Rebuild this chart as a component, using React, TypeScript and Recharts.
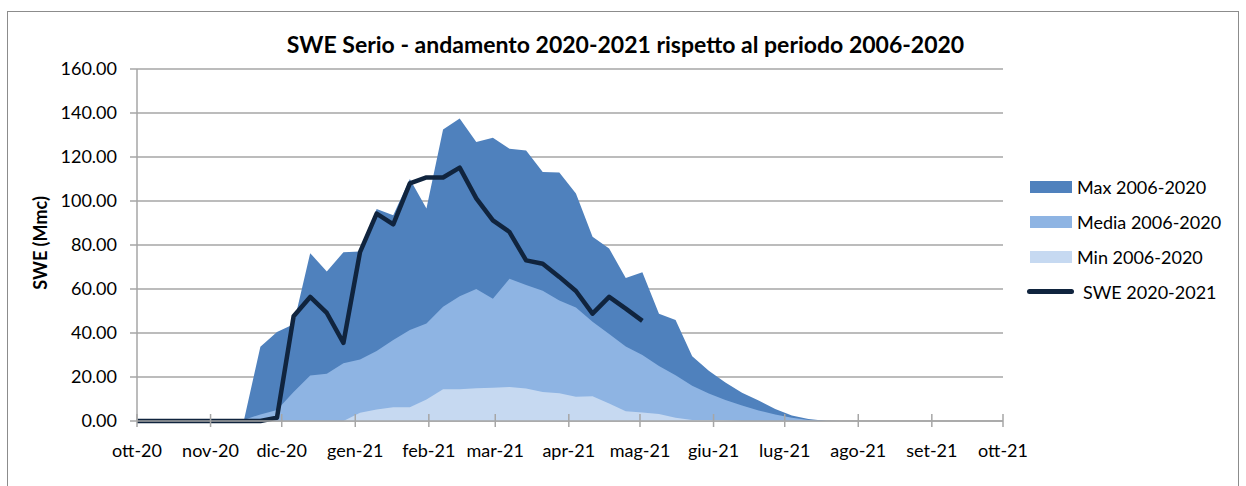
import React from "react";
import {
  ComposedChart,
  Area,
  Line,
  XAxis,
  YAxis,
  CartesianGrid,
} from "recharts";

// weekly sampling dates (first one is the start of the hydrological year)
const dates = [
  "2020-10-01", "2020-10-04", "2020-10-11", "2020-10-18", "2020-10-25",
  "2020-11-01", "2020-11-08", "2020-11-15", "2020-11-22", "2020-11-29",
  "2020-12-06", "2020-12-13", "2020-12-20", "2020-12-27", "2021-01-03",
  "2021-01-10", "2021-01-17", "2021-01-24", "2021-01-31", "2021-02-07",
  "2021-02-14", "2021-02-21", "2021-02-28", "2021-03-07", "2021-03-14",
  "2021-03-21", "2021-03-28", "2021-04-04", "2021-04-11", "2021-04-18",
  "2021-04-25", "2021-05-02", "2021-05-09", "2021-05-16", "2021-05-23",
  "2021-05-30", "2021-06-06", "2021-06-13", "2021-06-20", "2021-06-27",
  "2021-07-04", "2021-07-11", "2021-07-18", "2021-07-25", "2021-08-01",
  "2021-08-08", "2021-08-15", "2021-08-22", "2021-08-29", "2021-09-05",
  "2021-09-12", "2021-09-19", "2021-09-26",
];

const maxValues = [
  0, 0, 0, 0, 0, 0, 0, 0, 33.8, 40.4,
  44, 76.3, 68, 76.7, 77, 96.4, 93.5, 110, 96.6, 132.5,
  137.5, 126.8, 128.7, 123.7, 123, 113.2, 113, 103.4, 83.7, 78.4,
  65, 67.6, 48.8, 45.9, 29.4, 22.8, 17.5, 12.8, 9.3, 5.5,
  2.5, 0.9, 0.1, 0, 0, 0, 0, 0, 0, 0,
  0, 0, 0,
];

const mediaValues = [
  0, 0, 0, 0, 0, 0, 0, 0.5, 3, 5,
  13.2, 20.7, 21.5, 26.2, 27.9, 31.8, 36.8, 41.4, 44.3, 51.9,
  56.7, 60, 55.6, 64.7, 61.8, 59.2, 54.8, 51.6, 45.1, 39.6,
  33.9, 30, 25, 20.8, 16, 12.5, 9.5, 7, 4.8, 3,
  1.5, 0.5, 0, 0, 0, 0, 0, 0, 0, 0,
  0, 0, 0,
];

const minValues = [
  0, 0, 0, 0, 0, 0, 0, 0, 0, 0,
  0, 0, 0, 0, 3.8, 5.2, 6.2, 6.3, 9.8, 14.4,
  14.4, 14.9, 15.1, 15.5, 14.8, 13.2, 12.6, 11, 11.3, 7.9,
  4.4, 3.9, 3.2, 1.5, 0.4, 0.5, 0.3, 0, 0, 0,
  0, 0, 0, 0, 0, 0, 0, 0, 0, 0,
  0, 0, 0,
];

const sweValues: (number | null)[] = [
  0, 0, 0, 0, 0, 0, 0, 0, 0, 1.5,
  47.6, 56.4, 49.1, 35.5, 76.8, 94.3, 89.4, 108, 110.7, 110.7,
  115.2, 101.2, 91.2, 85.9, 73, 71.5, 65.5, 59.1, 48.8, 56.4,
  51.1, 45.5,
];

const monthStarts = [
  "2020-10-01", "2020-11-01", "2020-12-01", "2021-01-01", "2021-02-01",
  "2021-03-01", "2021-04-01", "2021-05-01", "2021-06-01", "2021-07-01",
  "2021-08-01", "2021-09-01", "2021-10-01",
];
const monthLabels = [
  "ott-20", "nov-20", "dic-20", "gen-21", "feb-21", "mar-21", "apr-21",
  "mag-21", "giu-21", "lug-21", "ago-21", "set-21", "ott-21",
];

const yTicks = [0, 20, 40, 60, 80, 100, 120, 140, 160];

const FONT = "Lato, 'Open Sans', sans-serif";
const GRID = "#a6a6a6";
const C_MAX = "#4f81bd";
const C_MEDIA = "#8eb4e3";
const C_MIN = "#c6d9f1";
const C_SWE = "#10243e";

const ORIGIN = Date.UTC(2020, 9, 1);
const toDay = (s: string) => {
  const [y, m, d] = s.split("-").map(Number);
  return Math.round((Date.UTC(y, m - 1, d) - ORIGIN) / 86400000);
};

const data = dates.map((d, i) => ({
  day: toDay(d),
  max: maxValues[i],
  media: mediaValues[i],
  min: minValues[i],
  swe: i < sweValues.length ? sweValues[i] : null,
}));

const tickDays = monthStarts.map(toDay);

const XTick = (props: any) => {
  const { x, y, payload } = props;
  const idx = tickDays.indexOf(payload.value);
  return (
    <g>
      <line x1={x} x2={x} y1={y - 7} y2={y + 6} stroke={GRID} strokeWidth={1.5} />
      <text
        x={x}
        y={y + 36}
        textAnchor="middle"
        fontFamily={FONT}
        fontSize={18}
        fill="#000"
      >
        {monthLabels[idx]}
      </text>
    </g>
  );
};

const legendItems = [
  { label: "Max 2006-2020", color: C_MAX, kind: "box" },
  { label: "Media 2006-2020", color: C_MEDIA, kind: "box" },
  { label: "Min 2006-2020", color: C_MIN, kind: "box" },
  { label: "SWE 2020-2021", color: C_SWE, kind: "line" },
];

const LegendBox = () => (
  <div
    style={{
      position: "absolute",
      left: 1026,
      top: 169,
      fontFamily: FONT,
      fontSize: 18,
      color: "#000",
    }}
  >
    {legendItems.map((it) => (
      <div
        key={it.label}
        style={{ display: "flex", alignItems: "center", height: 35 }}
      >
        {it.kind === "box" ? (
          <div
            style={{
              width: 42,
              height: 12,
              background: it.color,
              marginLeft: 4,
              marginRight: 5,
            }}
          />
        ) : (
          <div
            style={{
              width: 47,
              height: 5,
              borderRadius: 3,
              background: it.color,
              marginLeft: 1,
              marginRight: 9,
            }}
          />
        )}
        <span>{it.label}</span>
      </div>
    ))}
  </div>
);

export default function App() {
  return (
    <div
      style={{
        position: "absolute",
        left: 0,
        top: 0,
        width: 1246,
        height: 486,
        background: "#fff",
        overflow: "hidden",
      }}
    >
      <div
        style={{
          position: "absolute",
          left: 7,
          top: 11,
          width: 1230,
          height: 500,
          border: "1px solid #8c8c8c",
        }}
      />
      <div
        style={{
          position: "absolute",
          left: 0,
          width: 1251,
          top: 30,
          textAlign: "center",
          fontFamily: FONT,
          fontWeight: 700,
          fontSize: 23,
          lineHeight: "28px",
        }}
      >
        SWE Serio - andamento 2020-2021 rispetto al periodo 2006-2020
      </div>
      <div
        style={{
          position: "absolute",
          left: 40,
          top: 243,
          transform: "translate(-50%, -50%) rotate(-90deg)",
          fontFamily: FONT,
          fontWeight: 700,
          fontSize: 18,
          whiteSpace: "nowrap",
        }}
      >
        SWE (Mmc)
      </div>
      <ComposedChart
        width={1246}
        height={486}
        data={data}
        margin={{ top: 69, right: 243, left: 77, bottom: 25 }}
        style={{ position: "absolute", left: 0, top: 0 }}
      >
        <CartesianGrid vertical={false} stroke={GRID} strokeWidth={1.5} />
        <XAxis
          dataKey="day"
          type="number"
          domain={[0, 365]}
          ticks={tickDays}
          interval={0}
          height={40}
          tick={<XTick />}
          tickLine={false}
          tickSize={0}
          tickMargin={0}
          axisLine={{ stroke: GRID, strokeWidth: 1.5 }}
        />
        <YAxis
          type="number"
          domain={[0, 160]}
          ticks={yTicks}
          width={60}
          tickFormatter={(v: number) => v.toFixed(2)}
          tick={{ fontFamily: FONT, fontSize: 18, fill: "#000" }}
          tickSize={7}
          tickMargin={13}
          tickLine={{ stroke: GRID, strokeWidth: 1.5 }}
          axisLine={{ stroke: GRID, strokeWidth: 1.5 }}
        />
        <Area
          type="linear"
          dataKey="max"
          name="Max 2006-2020"
          stroke="none"
          fill={C_MAX}
          fillOpacity={1}
          isAnimationActive={false}
        />
        <Area
          type="linear"
          dataKey="media"
          name="Media 2006-2020"
          stroke="none"
          fill={C_MEDIA}
          fillOpacity={1}
          isAnimationActive={false}
        />
        <Area
          type="linear"
          dataKey="min"
          name="Min 2006-2020"
          stroke="none"
          fill={C_MIN}
          fillOpacity={1}
          isAnimationActive={false}
        />
        <Line
          type="linear"
          dataKey="swe"
          name="SWE 2020-2021"
          stroke={C_SWE}
          strokeWidth={4.5}
          strokeLinejoin="round"
          dot={false}
          activeDot={false}
          connectNulls={false}
          isAnimationActive={false}
        />
      </ComposedChart>
      <LegendBox />
    </div>
  );
}
